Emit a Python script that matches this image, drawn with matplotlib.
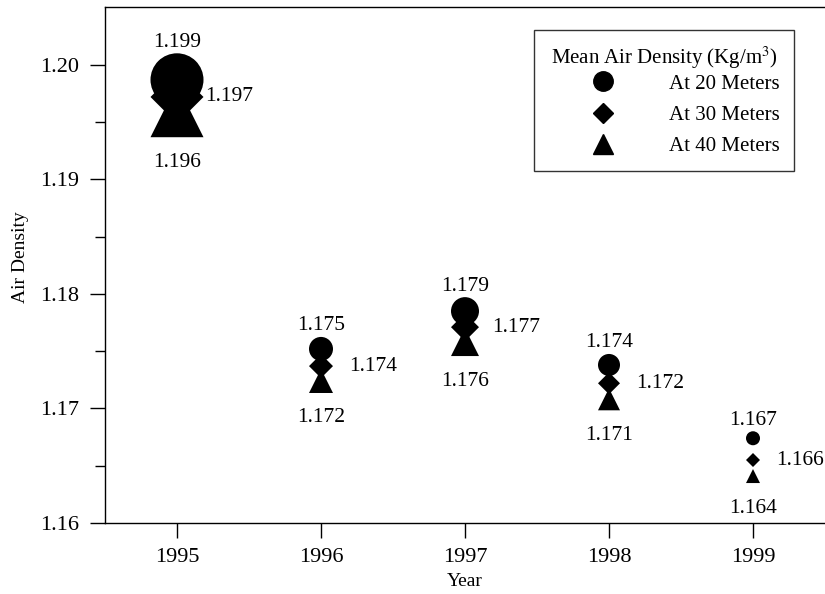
import matplotlib
matplotlib.use('Agg')
import matplotlib.pyplot as plt
from matplotlib.lines import Line2D
import numpy as np

plt.rcParams['font.family'] = 'Liberation Serif'
plt.rcParams['mathtext.fontset'] = 'stix'
plt.rcParams['font.size'] = 16

# data
years = [1995, 1996, 1997, 1998, 1999]
rho_20 = [1.1987, 1.1752, 1.1785, 1.1738, 1.1674]
rho_30 = [1.1972, 1.1737, 1.1771, 1.1722, 1.1655]
rho_40 = [1.1960, 1.1724, 1.1758, 1.1708, 1.1641]
lab_20 = ['1.199', '1.175', '1.179', '1.174', '1.167']
lab_30 = ['1.197', '1.174', '1.177', '1.172', '1.166']
lab_40 = ['1.196', '1.172', '1.176', '1.171', '1.164']
marker_px = [53, 24, 28, 22, 14]   # marker diameters in pixels
side_px = [28, 28, 27, 27, 23]     # offset of the 30 m label from the marker centre

dpi = 100
fig = plt.figure(figsize=(8.25, 5.94), dpi=dpi)
ax = fig.add_axes([105/825, 1 - 523/594, 1 - 105/825, (523 - 6.5)/594])

ms = np.array(marker_px) * 72.0 / dpi   # points
ax.scatter(years, rho_40, s=ms**2, marker='^', color='black', zorder=3, linewidths=0)
ax.scatter(years, rho_30, s=(ms/1.414)**2, marker='D', color='black', zorder=4, linewidths=0)
ax.scatter(years, rho_20, s=ms**2, marker='o', color='black', zorder=5, linewidths=0)

px = 72.0 / dpi
fs_lab = 15.5
for i, yr in enumerate(years):
    r = marker_px[i] / 2
    ax.annotate(lab_20[i], (yr, rho_20[i]), xytext=(0, (r + 11) * px), fontsize=fs_lab,
                textcoords='offset points', ha='center', va='center')
    ax.annotate(lab_30[i], (yr, rho_30[i]), xytext=(side_px[i] * px, 0), fontsize=fs_lab,
                textcoords='offset points', ha='left', va='center')
    ax.annotate(lab_40[i], (yr, rho_40[i]), xytext=(0, -(r + 25) * px), fontsize=fs_lab,
                textcoords='offset points', ha='center', va='center')

ax.set_xlim(1994.5, 1999.5)
ax.set_ylim(1.16, 1.2051)
ax.set_xticks(years)
ax.set_yticks([1.16, 1.17, 1.18, 1.19, 1.20])
ax.set_yticklabels(['1.16', '1.17', '1.18', '1.19', '1.20'])
ax.set_yticks([1.165, 1.175, 1.185, 1.195], minor=True)
ax.tick_params(axis='y', which='major', length=11, width=1, pad=8, direction='out')
ax.tick_params(axis='y', which='minor', length=7, width=1, direction='out')
ax.tick_params(axis='x', which='major', length=11, width=1, pad=7, direction='out')

ax.spines['right'].set_visible(False)
for s in ['left', 'bottom', 'top']:
    ax.spines[s].set_linewidth(1)

ax.set_xlabel('Year', fontsize=14, labelpad=4)
ax.set_ylabel('Air Density', fontsize=14)
ax.yaxis.set_label_coords(-0.106, 0.515)

handles = [
    Line2D([], [], marker='o', color='black', linestyle='none', markersize=14),
    Line2D([], [], marker='D', color='black', linestyle='none', markersize=10),
    Line2D([], [], marker='^', color='black', linestyle='none', markersize=14),
]
leg = ax.legend(handles, ['At 20 Meters', 'At 30 Meters', 'At 40 Meters'],
                title=r'Mean Air Density (Kg/m$^3$)', title_fontsize=15, fontsize=15,
                loc='upper right', bbox_to_anchor=(0.957, 0.9545), borderaxespad=0,
                frameon=True, fancybox=False, edgecolor='black',
                handlelength=5.15, handletextpad=0.6, labelspacing=0.56,
                borderpad=0.7)
leg.get_frame().set_linewidth(1)
leg._legend_box.sep = 2.3   # tighter gap between title and first entry

fig.savefig('out.png', dpi=dpi)
